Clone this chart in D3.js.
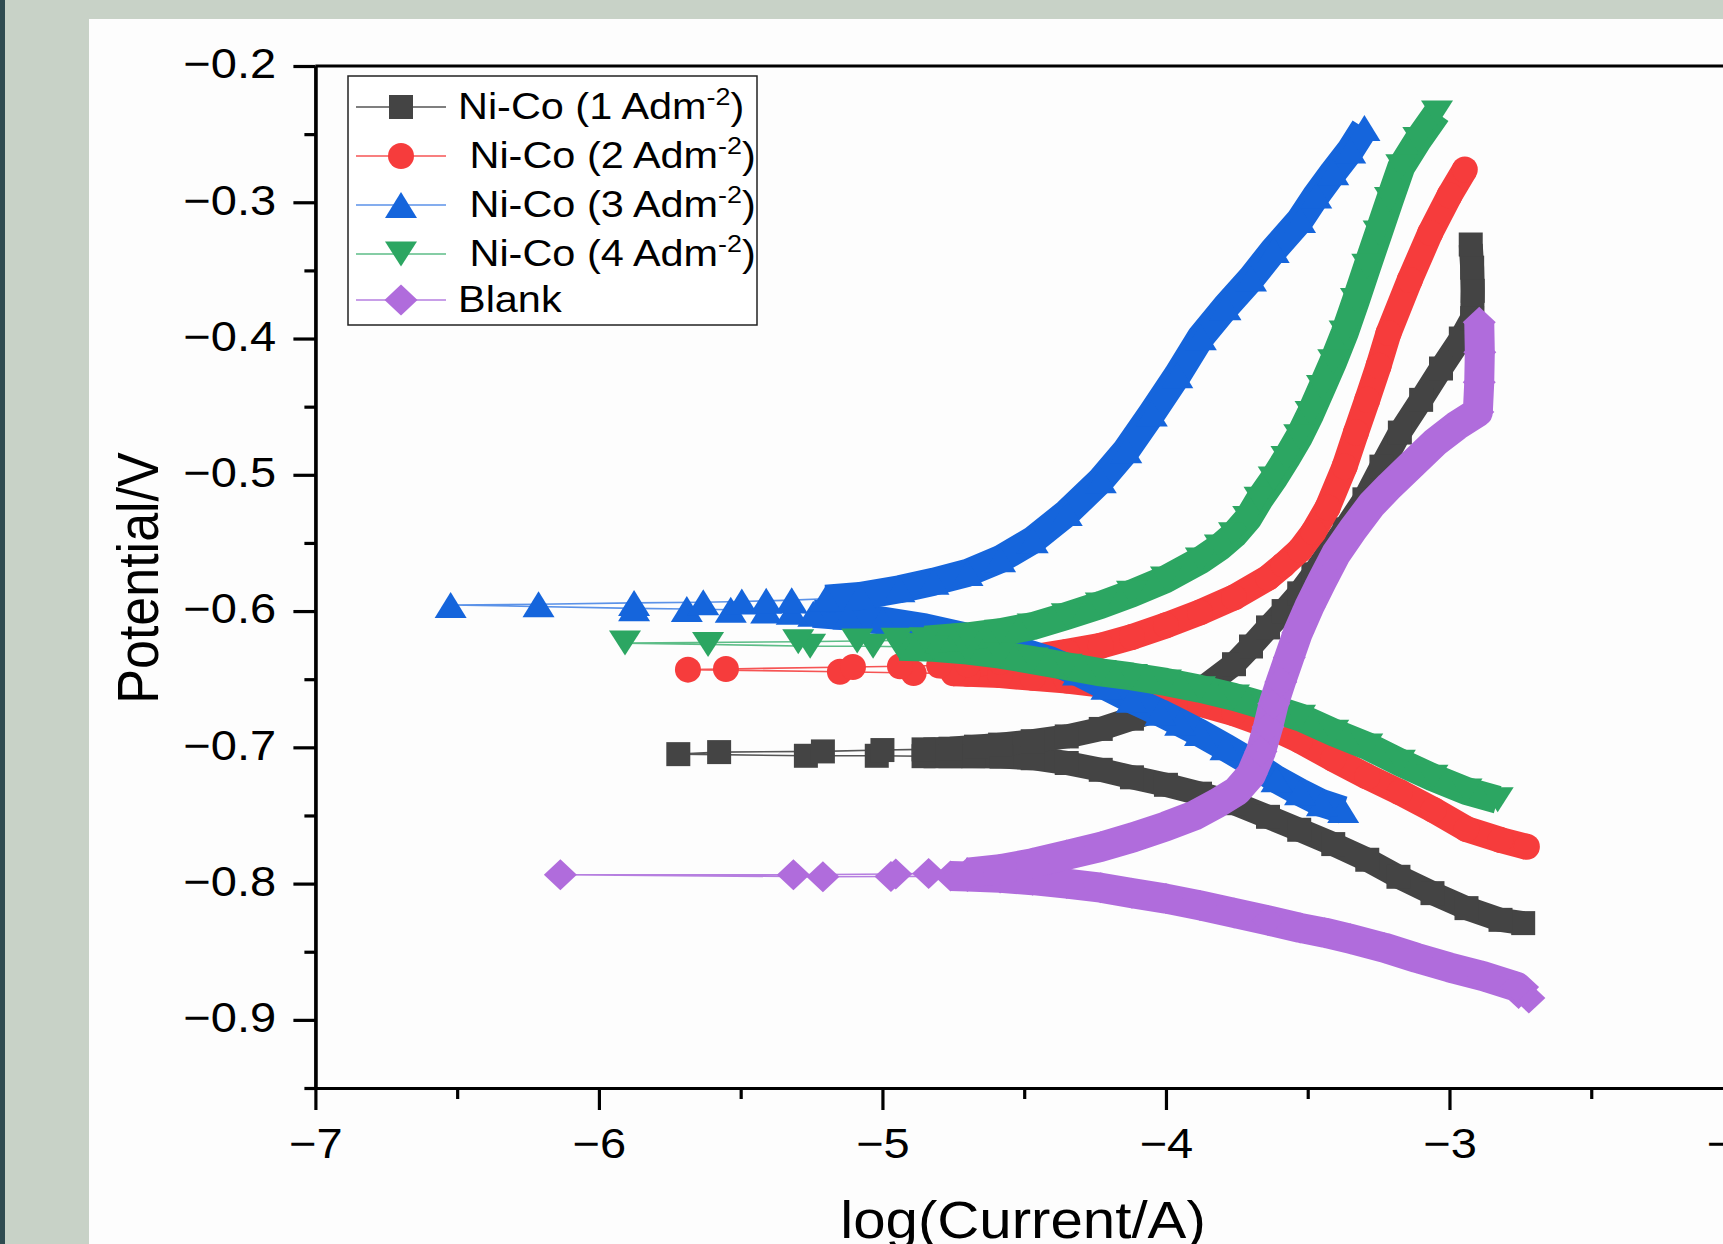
<!DOCTYPE html>
<html>
<head>
<meta charset="utf-8">
<script src="https://cdn.jsdelivr.net/npm/d3@7.9.0/dist/d3.min.js"></script>
<style>
    body { margin: 0; background: #c8d2c7; }
    svg { display: block; font-family: "Liberation Sans", Arial, sans-serif; }
</style>
</head>
<body>
<svg id="chart" width="1723" height="1244"></svg>
<script>
// tick values
const xMajorTicks = [-7, -6, -5, -4, -3, -2];
const xMinorTicks = [-6.5, -5.5, -4.5, -3.5, -2.5];
const yMajorTicks = [-0.9, -0.8, -0.7, -0.6, -0.5, -0.4, -0.3, -0.2];
const yMinorTicks = [-0.95, -0.85, -0.75, -0.65, -0.55, -0.45, -0.35, -0.25];

// legend labels (superscript part kept apart)
const legendLabels = ['Ni-Co (1 Adm', ' Ni-Co (2 Adm', ' Ni-Co (3 Adm', ' Ni-Co (4 Adm', 'Blank'];
const legendSup = ['-2', '-2', '-2', '-2', ''];

// [log(Current/A), Potential/V] in scan order:
// cathodic branch, points around Ecorr, anodic branch
const nico1Cathodic = [[-2.74, -0.829], [-2.82, -0.8266], [-2.94, -0.818], [-3.06, -0.807], [-3.18, -0.795],
    [-3.29, -0.7825], [-3.41, -0.771], [-3.53, -0.7605], [-3.64, -0.751], [-3.76, -0.741], [-3.88, -0.734],
    [-4.00, -0.7275], [-4.12, -0.722], [-4.23, -0.7165], [-4.35, -0.7115], [-4.47, -0.708], [-4.58, -0.7068],
    [-4.68, -0.7065], [-4.76, -0.7065], [-4.855, -0.7065]];
const nico1Corr = [[-5.02, -0.7062], [-5.27, -0.7062], [-5.72, -0.705], [-5.576, -0.7035], [-5.21, -0.703], [-5.00, -0.702]];
const nico1Anodic = [[-4.855, -0.7015], [-4.76, -0.701], [-4.67, -0.6995], [-4.585, -0.698], [-4.47, -0.6955],
    [-4.35, -0.692], [-4.23, -0.6865], [-4.12, -0.679], [-4.00, -0.670], [-3.88, -0.658], [-3.76, -0.639],
    [-3.70, -0.626], [-3.64, -0.612], [-3.585, -0.600], [-3.53, -0.587], [-3.48, -0.573], [-3.43, -0.558],
    [-3.37, -0.540], [-3.30, -0.518], [-3.24, -0.494], [-3.175, -0.469], [-3.10, -0.445], [-3.03, -0.422],
    [-2.96, -0.400], [-2.92, -0.385], [-2.918, -0.365], [-2.92, -0.348], [-2.925, -0.331]];

const nico2Cathodic = [[-2.727, -0.773], [-2.82, -0.768], [-2.94, -0.760], [-3.056, -0.746], [-3.175, -0.733],
    [-3.29, -0.7215], [-3.41, -0.7085], [-3.527, -0.695], [-3.64, -0.684], [-3.76, -0.675], [-3.88, -0.668],
    [-4.00, -0.662], [-4.12, -0.658], [-4.23, -0.654], [-4.35, -0.651], [-4.47, -0.649], [-4.585, -0.647],
    [-4.70, -0.646], [-4.75, -0.6457]];
const nico2Corr = [[-4.89, -0.6455], [-5.15, -0.6445], [-5.686, -0.643], [-5.552, -0.6425], [-5.104, -0.641], [-4.938, -0.6405]];
const nico2Anodic = [[-4.80, -0.640], [-4.70, -0.639], [-4.585, -0.637], [-4.47, -0.634], [-4.35, -0.630],
    [-4.23, -0.6255], [-4.12, -0.619], [-4.00, -0.6105], [-3.88, -0.601], [-3.76, -0.590], [-3.64, -0.5756],
    [-3.585, -0.566], [-3.527, -0.555], [-3.48, -0.542], [-3.43, -0.524], [-3.37, -0.494], [-3.33, -0.469],
    [-3.29, -0.445], [-3.25, -0.420], [-3.215, -0.396], [-3.14, -0.357], [-3.068, -0.3225], [-3.00, -0.295],
    [-2.946, -0.276]];

const nico3Cathodic = [[-3.375, -0.746], [-3.45, -0.741], [-3.527, -0.733], [-3.61, -0.7235], [-3.70, -0.711],
    [-3.79, -0.700], [-3.88, -0.6895], [-3.95, -0.682], [-4.02, -0.6747], [-4.12, -0.665], [-4.21, -0.6556],
    [-4.31, -0.645], [-4.41, -0.636], [-4.55, -0.627], [-4.70, -0.619], [-4.85, -0.612], [-5.00, -0.607],
    [-5.12, -0.604], [-5.244, -0.602]];
const nico3Corr = [[-5.32, -0.6005], [-5.41, -0.5995], [-5.535, -0.599], [-5.69, -0.5985], [-5.876, -0.598],
    [-6.523, -0.5955], [-6.213, -0.595], [-5.876, -0.594], [-5.632, -0.5935], [-5.496, -0.593], [-5.41, -0.5925],
    [-5.32, -0.592]];
const nico3Anodic = [[-5.20, -0.591], [-5.08, -0.589], [-4.94, -0.584], [-4.82, -0.5785], [-4.70, -0.572],
    [-4.585, -0.562], [-4.47, -0.548], [-4.35, -0.528], [-4.23, -0.504], [-4.14, -0.482], [-4.05, -0.455],
    [-3.96, -0.427], [-3.877, -0.399], [-3.79, -0.377], [-3.70, -0.356], [-3.62, -0.335], [-3.527, -0.313],
    [-3.47, -0.295], [-3.41, -0.278], [-3.35, -0.262], [-3.30, -0.2455]];

const nico4Cathodic = [[-2.83, -0.7385], [-2.94, -0.732], [-3.06, -0.722], [-3.175, -0.711], [-3.29, -0.699],
    [-3.41, -0.689], [-3.527, -0.678], [-3.644, -0.670], [-3.76, -0.663], [-3.88, -0.657], [-4.00, -0.652],
    [-4.12, -0.648], [-4.23, -0.645], [-4.35, -0.6405], [-4.47, -0.636], [-4.585, -0.632], [-4.70, -0.629],
    [-4.82, -0.627], [-4.94, -0.6262]];
const nico4Corr = [[-5.033, -0.6258], [-5.255, -0.6258], [-5.615, -0.6245], [-5.908, -0.6235], [-5.297, -0.6225],
    [-5.089, -0.622], [-4.95, -0.6215]];
const nico4Anodic = [[-4.85, -0.621], [-4.70, -0.6185], [-4.585, -0.6155], [-4.47, -0.611], [-4.35, -0.6035],
    [-4.23, -0.5955], [-4.12, -0.587], [-4.00, -0.5765], [-3.877, -0.5625], [-3.81, -0.553], [-3.76, -0.544],
    [-3.71, -0.532], [-3.67, -0.518], [-3.62, -0.503], [-3.575, -0.488], [-3.53, -0.472], [-3.49, -0.455],
    [-3.45, -0.436], [-3.41, -0.417], [-3.37, -0.396], [-3.33, -0.372], [-3.29, -0.347], [-3.25, -0.3225],
    [-3.21, -0.298], [-3.17, -0.274], [-3.11, -0.254], [-3.044, -0.2345]];

const blankCathodic = [[-2.72, -0.884], [-2.763, -0.8757], [-2.88, -0.868], [-3.00, -0.8615], [-3.116, -0.8545],
    [-3.23, -0.847], [-3.35, -0.8405], [-3.44, -0.836], [-3.527, -0.8325], [-3.64, -0.827], [-3.76, -0.8215],
    [-3.88, -0.816], [-4.00, -0.811], [-4.12, -0.807], [-4.23, -0.803], [-4.35, -0.800], [-4.47, -0.7975],
    [-4.585, -0.7958], [-4.70, -0.7948], [-4.76, -0.7945]];
const blankCorr = [[-4.97, -0.7948], [-5.21, -0.795], [-6.136, -0.7935], [-5.314, -0.7935], [-4.953, -0.793], [-4.837, -0.7925]];
const blankAnodic = [[-4.70, -0.792], [-4.585, -0.7895], [-4.47, -0.785], [-4.35, -0.779], [-4.23, -0.773],
    [-4.115, -0.766], [-4.00, -0.758], [-3.90, -0.750], [-3.82, -0.741], [-3.75, -0.732], [-3.70, -0.720],
    [-3.665, -0.703], [-3.64, -0.685], [-3.62, -0.668], [-3.595, -0.652], [-3.565, -0.634], [-3.535, -0.616],
    [-3.495, -0.597], [-3.45, -0.578], [-3.40, -0.558], [-3.34, -0.540], [-3.275, -0.522], [-3.21, -0.508],
    [-3.13, -0.492], [-3.05, -0.476], [-2.975, -0.464], [-2.90, -0.454], [-2.895, -0.432], [-2.893, -0.41],
    [-2.895, -0.388]];

const legendRowY = [107, 156, 205, 254, 300];

const series = [
    { label: 0, color: '#444444', thin: '#555555', shape: 'square', band: 24, cathodic: nico1Cathodic, corr: nico1Corr, anodic: nico1Anodic },
    { label: 1, color: '#f63c3c', thin: '#f65454', shape: 'circle', band: 26, cathodic: nico2Cathodic, corr: nico2Corr, anodic: nico2Anodic },
    { label: 2, color: '#1565dc', thin: '#5b92e8', shape: 'up', band: 28, cathodic: nico3Cathodic, corr: nico3Corr, anodic: nico3Anodic },
    { label: 3, color: '#2ca662', thin: '#5dbd87', shape: 'down', band: 28, cathodic: nico4Cathodic, corr: nico4Corr, anodic: nico4Anodic },
    { label: 4, color: '#b06cdc', thin: '#b67fe0', shape: 'diamond', band: 30, cathodic: blankCathodic, corr: blankCorr, anodic: blankAnodic },
];

function markerPath(shape) {
    switch (shape) {
        case 'square': return 'M-12,-12H12V12H-12Z';
        case 'circle': return 'M-13,0A13,13 0 1,0 13,0A13,13 0 1,0 -13,0Z';
        case 'up': return 'M0,-13L16,13L-16,13Z';
        case 'down': return 'M0,12.5L16,-12.5L-16,-12.5Z';
        default: return 'M0,-15.5L16.5,0L0,15.5L-16.5,0Z';
    }
}

const svg = d3.select('#chart');

// page frame: dark strip on the left, white panel
svg.append('rect').attr('x', 0).attr('y', 0).attr('width', 5).attr('height', 1244).attr('fill', '#2f4b50');
svg.append('rect').attr('x', 89).attr('y', 19).attr('width', 1634).attr('height', 1225).attr('fill', '#fdfdfd');

const x = d3.scaleLinear().domain([-7, -2]).range([315.4, 1733]);
const y = d3.scaleLinear().domain([-0.95, -0.2]).range([1088, 66]);

let line = d3.line().x((d) => x(d[0])).y((d) => y(d[1]));

// curves: thin connecting line, then the dense symbol band, then the symbols
let plot = svg.append('g');
series.forEach((s) => {
    let g = plot.append('g');
    let all = [...s.cathodic, ...s.corr, ...s.anodic];
    g.append('path')
        .attr('d', line(all))
        .attr('fill', 'none')
        .attr('stroke', s.thin)
        .attr('stroke-width', 1.6);
    [s.cathodic, s.anodic].forEach((branch) => {
        g.append('path')
            .attr('d', line(branch))
            .attr('fill', 'none')
            .attr('stroke', s.color)
            .attr('stroke-width', s.band)
            .attr('stroke-linejoin', 'round');
    });
    g.selectAll('.pt')
        .data(all)
        .join('path')
        .attr('class', 'pt')
        .attr('transform', (d) => `translate(${x(d[0])},${y(d[1])})`)
        .attr('d', markerPath(s.shape))
        .attr('fill', s.color);
});

// axes
function styleAxis(g) {
    g.selectAll('path.domain').attr('stroke', '#000').attr('stroke-width', 3.2);
    g.selectAll('.tick line').attr('stroke', '#000').attr('stroke-width', 3.2);
    g.selectAll('.tick text')
        .attr('fill', '#000')
        .attr('font-size', 42)
        .attr('font-family', '"Liberation Sans", Arial, sans-serif');
}

let xAxis = svg.append('g').attr('transform', `translate(0,${y(-0.95)})`)
    .call(d3.axisBottom(x).tickValues(xMajorTicks).tickSize(22).tickSizeOuter(0).tickFormat(d3.format('d')));
styleAxis(xAxis);
xAxis.selectAll('.tick text').attr('y', 70).attr('dy', 0).attr('transform', 'scale(1.12,1)');

let xMinor = svg.append('g').attr('transform', `translate(0,${y(-0.95)})`)
    .call(d3.axisBottom(x).tickValues(xMinorTicks).tickSize(11).tickSizeOuter(0).tickFormat(''));
styleAxis(xMinor);

let yAxis = svg.append('g').attr('transform', `translate(${x(-7)},0)`)
    .call(d3.axisLeft(y).tickValues(yMajorTicks).tickSize(22).tickSizeOuter(0).tickFormat(d3.format('.1f')));
styleAxis(yAxis);
yAxis.selectAll('.tick text').attr('x', -35).attr('dy', '0.28em').attr('transform', 'scale(1.12,1)');

let yMinor = svg.append('g').attr('transform', `translate(${x(-7)},0)`)
    .call(d3.axisLeft(y).tickValues(yMinorTicks).tickSize(11).tickSizeOuter(0).tickFormat(''));
styleAxis(yMinor);

// top frame line
svg.append('line')
    .attr('x1', x(-7)).attr('x2', x(-2))
    .attr('y1', y(-0.2)).attr('y2', y(-0.2))
    .attr('stroke', '#000').attr('stroke-width', 3.2);

// axis titles
svg.append('text')
    .attr('transform', 'translate(158,578) scale(1.12,1) rotate(-90)')
    .attr('text-anchor', 'middle')
    .attr('font-size', 52)
    .text('Potential/V');

svg.append('text')
    .attr('transform', 'translate(1023,1238) scale(1.12,1)')
    .attr('text-anchor', 'middle')
    .attr('font-size', 52)
    .text('log(Current/A)');

// legend
let legend = svg.append('g');
legend.append('rect')
    .attr('x', 348).attr('y', 76).attr('width', 409).attr('height', 249)
    .attr('fill', '#fff').attr('stroke', '#222').attr('stroke-width', 1.5);

series.forEach((s, i) => {
    let cy = legendRowY[i];
    legend.append('line')
        .attr('x1', 356).attr('x2', 446).attr('y1', cy).attr('y2', cy)
        .attr('stroke', s.thin).attr('stroke-width', 1.6);
    legend.append('path')
        .attr('transform', `translate(401,${cy})`)
        .attr('d', markerPath(s.shape))
        .attr('fill', s.color);
    let t = legend.append('text')
        .attr('transform', `translate(458,${cy + 12}) scale(1.12,1)`)
        .attr('font-size', 37)
        .style('white-space', 'pre');
    t.append('tspan').text(legendLabels[s.label]);
    if (legendSup[s.label]) {
        t.append('tspan').attr('dy', -14).attr('font-size', 24).text(legendSup[s.label]);
        t.append('tspan').attr('dy', 14).text(')');
    }
});
</script>
</body>
</html>
